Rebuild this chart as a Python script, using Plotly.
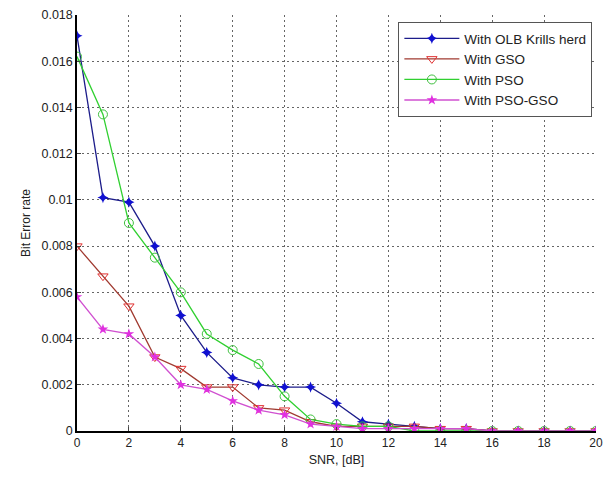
import plotly.graph_objects as go

snr = list(range(0, 21))
olb = [0.0171, 0.0101, 0.0099, 0.0080, 0.0050, 0.0034, 0.0023, 0.0020, 0.0019, 0.0019, 0.0012,
       0.0004, 0.0003, 0.0002, 0.0001, 0.0001, 0, 0, 0, 0, 0]
gso = [0.0080, 0.0067, 0.0054, 0.0032, 0.0027, 0.0019, 0.0019, 0.0010, 0.0009, 0.0004, 0.0002,
       0.0002, 0.0002, 0.0002, 0.0001, 0.0001, 0, 0, 0, 0, 0]
pso = [0.0162, 0.0137, 0.0090, 0.0075, 0.0060, 0.0042, 0.0035, 0.0029, 0.0015, 0.0005, 0.0003,
       0.0002, 0.0002, 0.0000, 0.0000, 0.0000, 0, 0, 0, 0, 0]
psogso = [0.0058, 0.0044, 0.0042, 0.0032, 0.0020, 0.0018, 0.0013, 0.0009, 0.0007, 0.0003, 0.0002,
          0.0001, 0.0001, 0.0001, 0.0001, 0.0001, 0, 0, 0, 0, 0]

names = ["With OLB Krills herd", "With GSO", "With PSO", "With PSO-GSO"]
ytickvals = [0, 0.002, 0.004, 0.006, 0.008, 0.01, 0.012, 0.014, 0.016, 0.018]
yticktext = ["0", "0.002", "0.004", "0.006", "0.008", "0.01", "0.012", "0.014", "0.016", "0.018"]
xtickvals = list(range(0, 21, 2))

fig = go.Figure()
fig.add_trace(go.Scatter(x=snr, y=olb, name=names[0], mode="lines+markers",
                         line=dict(color="#1c1c8a", width=1.3),
                         marker=dict(symbol="star-diamond", size=8, color="#1010d0")))
fig.add_trace(go.Scatter(x=snr, y=gso, name=names[1], mode="lines+markers",
                         line=dict(color="#a03a30", width=1.3),
                         marker=dict(symbol="triangle-down-open", size=9, color="#e03030")))
fig.add_trace(go.Scatter(x=snr, y=pso, name=names[2], mode="lines+markers",
                         line=dict(color="#30d030", width=1.3),
                         marker=dict(symbol="circle-open", size=9, color="#40c040")))
fig.add_trace(go.Scatter(x=snr, y=psogso, name=names[3], mode="lines+markers",
                         line=dict(color="#d050d0", width=1.3),
                         marker=dict(symbol="star", size=8, color="#e030e0")))

grid_style = dict(showgrid=True, gridcolor="#666", griddash="2px,3px", gridwidth=1)

fig.update_layout(
    width=610, height=478,
    margin=dict(l=77, r=7, t=15, b=47),
    paper_bgcolor="white", plot_bgcolor="white",
    font=dict(family="Liberation Sans, Arial, sans-serif", size=12, color="#222"),
    showlegend=True,
    legend=dict(x=0.993, y=0.983, xanchor="right", yanchor="top",
                bgcolor="white", bordercolor="#555", borderwidth=1,
                font=dict(size=13.5), tracegroupgap=0, itemwidth=55),
    xaxis=dict(range=[0, 20], tickvals=xtickvals, ticks="inside", ticklen=4,
               showline=True, linecolor="black", linewidth=1.5,
               zeroline=False, tickfont=dict(size=12),
               title=dict(text="SNR, [dB]", standoff=6, font=dict(size=12.5)),
               **grid_style),
    yaxis=dict(range=[0, 0.018], tickvals=ytickvals, ticktext=yticktext,
               ticks="inside", ticklen=4,
               showline=True, linecolor="black", linewidth=1.5,
               zeroline=False, tickfont=dict(size=12.5),
               title=dict(text="Bit Error rate", standoff=8, font=dict(size=12)),
               **grid_style),
)

fig.write_html("out.html")
